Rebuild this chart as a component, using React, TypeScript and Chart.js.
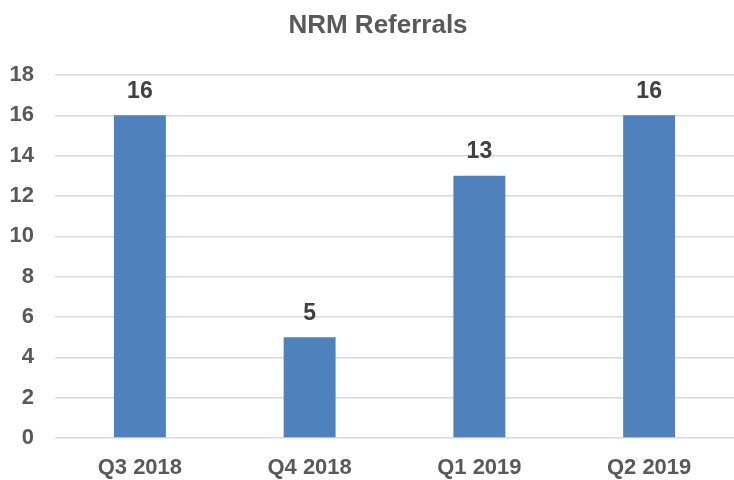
import React, { useEffect, useRef } from "react";
import { Chart, registerables } from "chart.js";

Chart.register(...registerables);

const categories = ["Q3 2018", "Q4 2018", "Q1 2019", "Q2 2019"];
const referrals = [16, 5, 13, 16];
const yTicks = [0, 2, 4, 6, 8, 10, 12, 14, 16, 18];
const chartTitle = "NRM Referrals";

const FONT = "'Liberation Sans', Arial, sans-serif";

const overlayPlugin = {
  id: "overlay",
  afterDatasetsDraw(chart: any) {
    const ctx = chart.ctx;
    ctx.save();
    ctx.fillStyle = "#404040";
    ctx.font = `bold 23px ${FONT}`;
    ctx.textAlign = "center";
    ctx.textBaseline = "middle";
    const meta = chart.getDatasetMeta(0);
    meta.data.forEach((bar: any, i: number) => {
      ctx.fillText(String(referrals[i]), bar.x, bar.y - 24);
    });
    ctx.fillStyle = "#595959";
    ctx.font = `bold 26px ${FONT}`;
    ctx.fillText(chartTitle, 378, 26);
    ctx.restore();
  },
};

export default function App() {
  const ref = useRef<HTMLCanvasElement | null>(null);
  useEffect(() => {
    if (!ref.current) return;
    const chart = new Chart(ref.current, {
      type: "bar",
      data: {
        labels: categories,
        datasets: [
          {
            data: referrals,
            backgroundColor: "#4F81BD",
            borderWidth: 0,
            barPercentage: 0.306,
            categoryPercentage: 1,
          },
        ],
      },
      options: {
        animation: false,
        responsive: false,
        devicePixelRatio: 1,
        layout: { padding: { top: 75, right: 0, left: 0, bottom: 0 } },
        plugins: { legend: { display: false }, title: { display: false }, tooltip: { enabled: false } },
        scales: {
          x: {
            grid: { display: false, drawTicks: false },
            border: { display: false },
            ticks: {
              color: "#595959",
              font: { family: FONT, size: 22, weight: "bold" },
              padding: 17,
              maxRotation: 0,
            },
            afterFit(scale: any) {
              scale.height = 42;
            },
          },
          y: {
            min: 0,
            max: 18,
            afterBuildTicks(scale: any) {
              scale.ticks = yTicks.map((v) => ({ value: v }));
            },
            grid: { color: "#D9D9D9", lineWidth: 1.5, drawTicks: false },
            border: { display: false },
            ticks: {
              color: "#595959",
              font: { family: FONT, size: 22, weight: "bold" },
              padding: 21,
            },
            afterFit(scale: any) {
              scale.width = 55;
            },
          },
        },
      },
      plugins: [overlayPlugin],
    });
    return () => chart.destroy();
  }, []);
  return (
    <div style={{ position: "absolute", left: 0, top: 0, width: 734, height: 480, background: "#fff" }}>
      <canvas ref={ref} width={734} height={480} />
    </div>
  );
}
